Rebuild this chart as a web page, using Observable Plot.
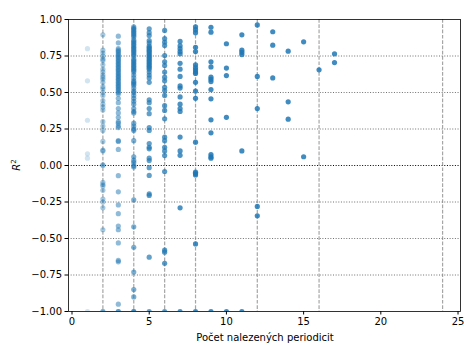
<!DOCTYPE html>
<html><head><meta charset="utf-8">
<script src="https://cdn.jsdelivr.net/npm/d3@7"></script>
<script src="https://cdn.jsdelivr.net/npm/@observablehq/plot@0.6"></script>
<style>body{margin:0;background:#fff} svg{display:block} #chart{width:464px;height:347px}</style>
</head><body><div id="chart"></div>
<script>
// R² values grouped by number of found periodicities (x)
const r2_1 = [0.80, 0.58, 0.31, 0.08, 0.05, -1];
const r2_2 = [0.895, 0.79, 0.77, 0.75, 0.73, 0.72, 0.69, 0.66, 0.64, 0.62, 0.605, 0.59, 0.57, 0.54, 0.525, 0.50, 0.48, 0.445, 0.42, 0.40, 0.38, 0.30, 0.27, 0.24, 0.165, 0.105, 0.10, 0.005, 0.0, -0.115, -0.13, -0.14, -0.17, -0.23, -0.25, -0.29, -0.44, -1, -1];
const r2_3 = [0.886, 0.84, 0.80, 0.79, 0.78, 0.77, 0.76, 0.75, 0.74, 0.73, 0.72, 0.71, 0.70, 0.69, 0.68, 0.67, 0.66, 0.65, 0.64, 0.63, 0.62, 0.61, 0.60, 0.59, 0.58, 0.57, 0.56, 0.55, 0.54, 0.53, 0.52, 0.51, 0.50, 0.49, 0.46, 0.43, 0.39, 0.36, 0.33, 0.30, 0.29, 0.27, 0.26, 0.17, 0.165, 0.11, -0.07, -0.18, -0.27, -0.33, -0.415, -0.44, -0.53, -0.65, -0.66, -0.95, -1, -1];
const r2_4 = [0.95, 0.94, 0.93, 0.92, 0.91, 0.90, 0.89, 0.88, 0.86, 0.85, 0.84, 0.83, 0.82, 0.81, 0.80, 0.79, 0.78, 0.77, 0.76, 0.75, 0.73, 0.72, 0.71, 0.70, 0.69, 0.68, 0.67, 0.66, 0.65, 0.64, 0.62, 0.60, 0.58, 0.57, 0.56, 0.55, 0.53, 0.51, 0.50, 0.48, 0.46, 0.44, 0.42, 0.39, 0.37, 0.36, 0.29, 0.27, 0.25, 0.24, 0.17, 0.06, 0.035, 0.02, 0.0, -0.01, -0.235, -0.42, -0.56, -0.73, -0.85, -0.90, -1, -1];
const r2_5 = [0.936, 0.91, 0.89, 0.856, 0.84, 0.82, 0.81, 0.80, 0.79, 0.78, 0.77, 0.76, 0.75, 0.74, 0.73, 0.72, 0.71, 0.70, 0.69, 0.68, 0.67, 0.66, 0.64, 0.62, 0.60, 0.57, 0.45, 0.43, 0.39, 0.355, 0.26, 0.24, 0.15, 0.125, 0.114, 0.05, 0.034, -0.015, -0.068, -0.195, -0.205, -0.628, -1];
const r2_6 = [0.925, 0.87, 0.845, 0.822, 0.753, 0.71, 0.685, 0.64, 0.605, 0.58, 0.536, 0.513, 0.48, 0.41, 0.377, 0.32, 0.194, 0.17, 0.125, 0.10, 0.068, -0.041, -0.58, -0.594, -0.67, -1];
const r2_7 = [0.85, 0.82, 0.80, 0.78, 0.765, 0.70, 0.66, 0.61, 0.545, 0.53, 0.47, 0.42, 0.39, 0.37, 0.195, 0.10, 0.07, -0.29, -1];
const r2_8 = [0.95, 0.93, 0.91, 0.81, 0.78, 0.69, 0.67, 0.655, 0.64, 0.63, 0.57, 0.51, 0.46, 0.16, -0.046, -0.055, -0.065, -0.537, -1];
const r2_9 = [0.947, 0.913, 0.71, 0.675, 0.605, 0.59, 0.575, 0.52, 0.457, 0.313, 0.224, 0.075, 0.06, 0.05, -1];
const r2_10 = [0.834, 0.667, 0.616, 0.33, -1];
const r2_11 = [0.895, 0.79, 0.775, 0.76, 0.10, -1];
const r2_12 = [0.963, 0.61, 0.39, -0.28, -0.345];
const r2_13 = [0.916, 0.824, 0.60];
const r2_14 = [0.783, 0.436, 0.317];
const r2_15 = [0.847, 0.06];
const r2_16 = [0.655];
const r2_17 = [0.765, 0.705];

const groups = [
  [1, r2_1], [2, r2_2], [3, r2_3], [4, r2_4], [5, r2_5], [6, r2_6], [7, r2_7], [8, r2_8],
  [9, r2_9], [10, r2_10], [11, r2_11], [12, r2_12], [13, r2_13], [14, r2_14], [15, r2_15],
  [16, r2_16], [17, r2_17]
];
const refLines = [2, 4, 6, 8, 12, 16, 24];
const xTicks = [0, 5, 10, 15, 20, 25];
const yTicks = [-1, -0.75, -0.5, -0.25, 0, 0.25, 0.5, 0.75, 1];
const xLabel = "Počet nalezených periodicit";

const points = groups.flatMap(([n, vals]) => vals.map(v => ({n, r2: v})));
const alphaFor = n => n === 1 ? 0.2 : n === 2 ? 0.4 : n === 3 ? 0.5 : n === 4 ? 0.6 : n === 5 ? 0.7 : n === 6 ? 0.75 : n === 7 ? 0.8 : 0.85;

const font = "DejaVu Sans, sans-serif";
const chart = Plot.plot({
  width: 464, height: 347,
  marginLeft: 68, marginRight: 4, marginTop: 19, marginBottom: 36,
  style: {fontFamily: font, fontSize: "10px", color: "#000", background: "#fff", overflow: "visible"},
  x: {domain: [-0.227, 25.16]},
  y: {domain: [-1, 1]},
  marks: [
    Plot.ruleY(yTicks.filter(t => t !== 0 && t !== -1 && t !== 1), {stroke: "#707070", strokeWidth: 1, strokeDasharray: "1,1.65"}),
    Plot.ruleY([0], {stroke: "#000", strokeWidth: 1, strokeDasharray: "1,1.65"}),
    Plot.ruleX(refLines, {stroke: "#808080", strokeOpacity: 0.7, strokeWidth: 1.2, strokeDasharray: "3.7,1.6"}),
    Plot.dot(points, {x: "n", y: "r2", r: 2.6, fill: "#1f77b4", fillOpacity: d => alphaFor(d.n), stroke: "none", clip: true}),
    Plot.frame({stroke: "#000", strokeWidth: 0.8}),
    Plot.axisX(xTicks, {tickSize: 3.5, tickPadding: 3, fontSize: 10, label: null, tickFormat: d3.format("d")}),
    Plot.axisY(yTicks, {tickSize: 3.5, tickPadding: 3, fontSize: 10, label: null, tickFormat: d3.format(".2f")})
  ]
});
document.getElementById("chart").appendChild(chart);

const svg = d3.select(chart);
svg.append("text")
  .attr("x", 265).attr("y", 341)
  .attr("text-anchor", "middle")
  .attr("font-family", font).attr("font-size", 10).attr("fill", "#000")
  .text(xLabel);
const yl = svg.append("text")
  .attr("transform", "translate(20,165) rotate(-90)")
  .attr("text-anchor", "middle")
  .attr("font-family", font).attr("font-size", 10).attr("fill", "#000");
yl.append("tspan").attr("font-style", "italic").text("R");
yl.append("tspan").attr("font-size", 7).attr("dy", -4).text("2");
</script>
</body></html>
